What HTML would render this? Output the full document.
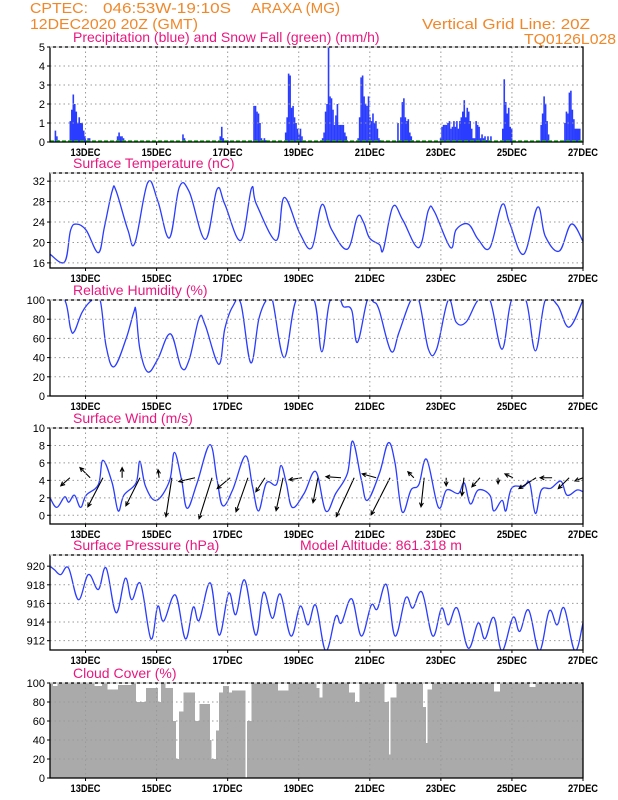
<!DOCTYPE html>
<html><head><meta charset="utf-8"><style>
html,body{margin:0;padding:0;background:#fff;}
svg{display:block;font-family:"Liberation Sans",sans-serif;}
.t{fill:#f0882a;font-size:15px;}
.m{fill:#e8177f;font-size:14px;}
.tk{font-size:11px;fill:#000;}
</style></head><body>
<svg id="c" width="618" height="800" viewBox="0 0 618 800">
<text class="t" x="30" y="13" textLength="58" lengthAdjust="spacingAndGlyphs">CPTEC:</text>
<text class="t" x="103" y="13" textLength="128" lengthAdjust="spacingAndGlyphs">046:53W-19:10S</text>
<text class="t" x="251" y="13" textLength="89" lengthAdjust="spacingAndGlyphs">ARAXA (MG)</text>
<text class="t" x="30" y="29" textLength="168" lengthAdjust="spacingAndGlyphs">12DEC2020 20Z (GMT)</text>
<text class="t" x="422" y="29" textLength="168" lengthAdjust="spacingAndGlyphs">Vertical Grid Line: 20Z</text>
<text class="t" x="524" y="44" textLength="92" lengthAdjust="spacingAndGlyphs">TQ0126L028</text>
<g id="g"></g>
</svg>
<script>
// ---- data (days since 12DEC 20Z) ----
const xLabels = ["13DEC","15DEC","17DEC","19DEC","21DEC","23DEC","25DEC","27DEC"];
const precipClusters = [
 [0.13,[0.6,0.3,0.1]],
 [0.55,[1.1,1.7,2.5,2.0,1.6,1.0,1.3,1.0,1.0,0.6,0.3,0,0.2,0.2]],
 [1.88,[0.3,0.5,0.3,0.3,0.2]],
 [3.72,[0.4,0.2]],
 [4.77,[0.3,0.8,0.2,0,0,0.1]],
 [5.72,[1.9,1.9,1.6,1.5,1.0,0.2,0.1,0.2,0.1]],
 [6.61,[0.5,1.3,3.6,3.5,1.8,1.9,1.3,1.0,0.7,0.4,0.7,0.3]],
 [7.65,[0.2,0.5,1.6,2.0,5.0,2.4,2.3,1.7,0.9,1.4,2.0,0.9,0.9,0.9,0.9,0.5,0.3]],
 [8.65,[0.2,1.3,3.4,3.5,2.4,2.0,1.9,2.4,1.3,1.1,1.5,1.0,1.1,0.7,0.2,0.1]],
 [9.77,[1.0,0,1.3,2.1,2.3,1.3,1.1,1.2,0.5,0.3,0.1]],
 [10.97,[0.2,0.8,0.9,0.9,0.9,1.0,1.1,0.7,0.8,1.1,0.8,1.1,0.7,1.1,1.3,1.6,2.2,1.3,1.8,1.6,1.1,0.7,0.2,0.2,1.1,0.9,0.8,0.2,0.4,0.2,0.3,0.1,0.3,0,0.3]],
 [12.72,[0.7,3.3,2.1,1.5,1.8,0.8,0.7]],
 [13.8,[0.9,1.5,2.4,2.0,1.1,0.4]],
 [14.47,[1.0,1.6,1.5,2.6,2.7,1.7,1.2,0.7,0.7,0.7,0.7]]
];
const tempDays = [0,0.41,0.58,0.75,1.02,1.36,1.53,1.75,1.86,2.19,2.39,2.75,3.03,3.36,3.64,3.92,4.37,4.7,4.92,5.37,5.67,5.81,6.37,6.59,7.03,7.37,7.65,7.92,8.37,8.65,8.82,8.99,9.27,9.38,9.65,9.93,10.38,10.65,10.82,11.27,11.43,11.77,12.05,12.38,12.72,12.94,13.33,13.72,13.94,14.33,14.67,15];
const tempVals = [17.7,16.2,22.4,23.6,22.4,18,23,30.1,30.1,22.5,19.9,31.7,28.2,20.9,30.8,29.9,20.6,30.4,27.5,20.4,30.6,27.5,20.4,28.8,21.8,19,27.4,22.6,18.7,25,24,20.9,19.6,18.6,27,24.4,19,26.3,26,19,22.5,23.6,20.6,19,27.4,23.7,17.7,26.9,21.2,18.3,23.6,20.2];
const rhDays = [0,0.41,0.58,0.69,0.91,1.19,1.41,1.58,1.8,2.14,2.36,2.42,2.53,2.75,3.03,3.39,3.7,3.92,4.2,4.37,4.75,4.92,5.14,5.37,5.65,5.88,6.09,6.26,6.59,6.93,7.43,7.65,7.87,8.15,8.26,8.49,8.65,8.93,9.1,9.26,9.6,9.82,10.16,10.38,10.65,10.88,11.21,11.43,11.71,12.05,12.38,12.72,12.99,13.39,13.66,13.94,14.28,14.61,15];
const rhVals = [100,100,70,67.5,87.6,100,100,52,30.4,59.4,87.6,88,48.8,25.1,38.2,64.7,29.3,38.2,81.3,73.5,33,70,93,96.5,34.6,80.6,100,100,40,100,100,46,98,100,93,89.4,55.8,100,98,90,46.6,66,100,100,48.8,48.8,100,77,77,100,100,48.8,100,100,47,100,94.7,71.7,100];
const windDays = [0,0.19,0.41,0.53,0.69,0.86,1.02,1.36,1.49,1.75,1.92,2.08,2.42,2.53,2.69,2.99,3.36,3.5,3.7,3.86,4.14,4.5,4.7,4.86,5.14,5.5,5.7,5.87,6.09,6.37,6.5,6.65,6.82,7.15,7.48,7.76,8.04,8.37,8.52,8.76,8.93,9.27,9.52,9.71,9.91,10.16,10.38,10.6,10.93,11.16,11.49,11.66,11.83,12.05,12.38,12.49,12.72,12.83,12.99,13.33,13.5,13.66,13.83,14.1,14.38,14.55,14.83,15];
const windVals = [2,0.9,2.1,1.5,2.3,0.9,2.3,3.5,6.3,3.7,0.5,2.3,3.7,6.2,3.3,1.7,3.9,7.2,4.1,0.8,3.7,8.1,4.1,1.1,2.9,6.8,3.3,0.5,3.7,3.5,5.7,3.7,0.9,2.5,5,0.5,2.5,4.8,8.5,4.1,1.7,4.8,8.3,6,0.4,2.9,3.5,6.4,0.9,2.9,2.5,3.7,1.3,2.9,2.3,0.5,1.7,0.5,3.1,3.3,3.7,0.2,2.9,3.1,3.9,2.3,2.9,2.7];
const arrowDays = [0.56,1.13,1.49,2.03,2.53,3.07,3.43,4.08,4.56,5.07,5.57,6.05,6.56,7.09,7.54,8.19,8.56,9.18,9.57,10.24,10.53,11.15,11.65,12.1,12.61,13.03,13.68,14.13,14.61,15.0];
const arrowU = [-2.6,-2.9,-4.3,0,-4,-0.3,-1.7,-4.6,-3.7,-3.7,-3.4,-2.6,-2,-3.7,-1.4,-4.3,-5.1,-4,-5.4,-1.7,-0.9,0,-0.6,-2.3,0,-2.3,-4.9,-3.4,-3.1,-2.3];
const arrowV = [-2.3,2.9,-8.3,2.9,-8,2.3,-11.1,-1.1,-11.7,-3.1,-9.7,-4,-9.4,-0.6,-7.1,0.3,-11.1,1.1,-10.6,1.7,-8.3,-2.3,-5.1,-2.6,-1.7,1.1,-3.1,0,-3.1,-0.9];
const presDays = [0,0.13,0.3,0.52,0.8,1.08,1.36,1.58,1.86,2.12,2.3,2.55,2.84,3.03,3.2,3.53,3.81,4.03,4.2,4.51,4.76,5.03,5.23,5.48,5.79,6.01,6.26,6.48,6.78,7.04,7.26,7.48,7.76,8.04,8.2,8.49,8.76,9.04,9.21,9.47,9.71,10.01,10.21,10.47,10.77,11.02,11.21,11.46,11.77,12.05,12.24,12.49,12.72,13.03,13.22,13.47,13.77,14.05,14.27,14.47,14.77,15];
const presVals = [920,919.6,919.1,919.8,916.4,919.1,917.5,919.8,915,918.7,916.4,918.1,912.2,915.7,914.1,916.9,912.2,915.6,914.2,918.2,912.6,917.1,914.8,918.5,912.6,917.2,914.4,917,912.5,915.7,913.7,915.8,910.9,914.6,913.9,916.5,912.5,915.8,915.4,918,912.5,916.6,915.5,917.2,912.5,915.5,913.7,915.5,911.2,913.9,912.2,914.5,910.9,914.5,913,915.3,910.9,915.2,913.7,915.5,910.9,913.9];
const cloudDips = [[0.1,0.2,97],[1.25,1.45,97],[1.63,1.91,93],[1.91,2.3,98],[2.42,2.7,80],[2.7,3.03,95],[3.03,3.14,80],[3.25,3.47,95],[3.47,3.53,60],[3.53,3.64,20],[3.64,3.75,70],[3.75,4.09,90],[4.09,4.2,60],[4.2,4.48,78],[4.48,4.54,40],[4.54,4.65,20],[4.65,4.76,50],[4.76,4.87,90],[4.87,5.03,97],[5.03,5.14,90],[5.14,5.48,92],[5.48,5.53,0],[5.53,5.65,60],[6.43,6.71,92],[7.49,7.6,95],[7.6,7.66,85],[8.43,8.57,90],[8.57,8.71,80],[9.43,9.54,80],[9.54,9.6,25],[9.6,9.77,85],[10.49,10.6,75],[10.6,10.63,37],[10.63,10.74,93],[10.99,11.1,99],[12.5,12.67,91],[13.5,13.66,96]];

// ---- drawing ----
const NS="http://www.w3.org/2000/svg";
const G=document.getElementById('g');
const X0=50,X1=583,NDAYS=15;
function x(d){return X0+(X1-X0)*d/NDAYS;}
function mk(tag,at,parent){const e=document.createElementNS(NS,tag);for(const k in at)e.setAttribute(k,at[k]);(parent||G).appendChild(e);return e;}
function panel(name,title,top,bot,vmin,vmax,ticks,extra){
  const g=mk('g',{});
  
  
  const y=v=>bot-(v-vmin)/(vmax-vmin)*(bot-top);
  const t=mk('text',{x:73,y:top-5,class:'m'},g);t.textContent=title;
  
  
  if(extra){const e=mk('text',{x:300,y:top-5,class:'m'},g);e.textContent=extra;
    
    }
  const cp=mk('clipPath',{id:'cp'+name},g);
  mk('rect',{x:X0,y:top,width:X1-X0,height:bot-top},cp);
  const inner=mk('g',{'clip-path':'url(#cp'+name+')'},g);
  const axes=mk('g',{},g);
  for(let i=0;i<xLabels.length;i++){const xx=x(1+2*i);
    if(i<xLabels.length-1) mk('line',{x1:xx,x2:xx,y1:top,y2:bot,stroke:'#999','stroke-dasharray':'1.5,3'},axes);
    mk('line',{x1:xx,x2:xx,y1:bot,y2:bot+3,stroke:'#000'},axes);
    const l=mk('text',{x:xx,y:bot+14,'text-anchor':'middle',class:'tk','font-weight':'bold','textLength':30,'lengthAdjust':'spacingAndGlyphs'},axes);l.textContent=xLabels[i];
    
    }
  ticks.forEach(v=>{const yy=y(v);
    if(v>vmin&&v<vmax) mk('line',{x1:X0,x2:X1,y1:yy,y2:yy,stroke:'#999','stroke-dasharray':'1.5,3'},axes);
    mk('line',{x1:X0-3,x2:X0,y1:yy,y2:yy,stroke:'#000'},axes);
    const l=mk('text',{x:X0-5,y:yy+4,'text-anchor':'end',class:'tk'},axes);l.textContent=v;
    
    });
  return {y,inner,axes,top,bot};
}
function frame(p){
  mk('rect',{x:X0,y:p.top,width:X1-X0,height:p.bot-p.top,fill:'none',stroke:'#000','stroke-width':1.3},p.axes);
  mk('line',{x1:X0,x2:X1,y1:p.top,y2:p.top,stroke:'#fff','stroke-dasharray':'3,3'},p.axes);
}
function line(p,days,vals,name){
  const P=days.map((dd,i)=>[x(dd),p.y(vals[i])]);
  let d='M'+P[0][0].toFixed(1)+','+P[0][1].toFixed(1);
  const k=0.18;
  for(let i=0;i<P.length-1;i++){
    const p0=P[Math.max(0,i-1)],p1=P[i],p2=P[i+1],p3=P[Math.min(P.length-1,i+2)];
    const c1=[p1[0]+(p2[0]-p0[0])*k,p1[1]+(p2[1]-p0[1])*k];
    const c2=[p2[0]-(p3[0]-p1[0])*k,p2[1]-(p3[1]-p1[1])*k];
    d+='C'+c1.map(v=>v.toFixed(1)).join(',')+' '+c2.map(v=>v.toFixed(1)).join(',')+' '+p2.map(v=>v.toFixed(1)).join(',');
  }
  const e=mk('path',{d,fill:'none',stroke:'#2a3cff','stroke-width':1.3,'stroke-linejoin':'round'},p.inner);
  
  
}
// precip
let p=panel('precip','Precipitation (blue) and Snow Fall (green) (mm/h)',47,142,0,5,[0,1,2,3,4,5]);
precipClusters.forEach(c=>{c[1].forEach((v,i)=>{if(v<=0)return;const d=c[0]+i/24;
  const r=mk('rect',{x:x(d).toFixed(2),y:p.y(v).toFixed(2),width:1.6,height:(p.y(0)-p.y(v)).toFixed(2),fill:'#2a3cff'},p.inner);
  
  });});
const sn=mk('line',{x1:X0,x2:X1,y1:141,y2:141,stroke:'#1fb81f','stroke-width':1.5,'stroke-dasharray':'4,2'},p.inner);


frame(p);
// temp
p=panel('temp','Surface Temperature (nC)',173,268,15,33.6,[16,20,24,28,32]);
line(p,tempDays,tempVals,'temperature-line');frame(p);
// rh
p=panel('rh','Relative Humidity (%)',300,396,0,100,[0,20,40,60,80,100]);
line(p,rhDays,rhVals,'humidity-line');frame(p);
// wind
p=panel('wind','Surface Wind (m/s)',428,524,-1,10,[0,2,4,6,8,10]);
line(p,windDays,windVals,'wind-speed-line');
arrowDays.forEach((d,i)=>{const x1=x(d),y1=p.y(4.3),s=3.5;const x2=x1+arrowU[i]*s,y2=y1-arrowV[i]*s;
  const a=Math.atan2(y2-y1,x2-x1),h=4.5;
  const dd=`M${x1},${y1}L${x2},${y2}M${x2-h*Math.cos(a-0.45)},${y2-h*Math.sin(a-0.45)}L${x2},${y2}L${x2-h*Math.cos(a+0.45)},${y2-h*Math.sin(a+0.45)}`;
  const e=mk('path',{d:dd,stroke:'#000',fill:'none','stroke-width':1.1},p.inner);
  
  });
frame(p);
// pressure
p=panel('pres','Surface Pressure (hPa)',555,650,911,921.2,[912,914,916,918,920],'Model Altitude: 861.318 m');
line(p,presDays,presVals,'pressure-line');frame(p);
// cloud
p=panel('cloud','Cloud Cover (%)',683,778,0,100,[0,20,40,60,80,100]);
let cd='M'+X0+','+p.y(0);
for(let h=0;h<NDAYS*24;h++){const d=h/24;let v=100;
  cloudDips.forEach(c=>{if(d+1/48>=c[0]&&d+1/48<c[1])v=Math.min(v,c[2]);});
  cd+='L'+x(d).toFixed(2)+','+p.y(v).toFixed(2)+'L'+x(d+1/24).toFixed(2)+','+p.y(v).toFixed(2);}
cd+='L'+X1+','+p.y(0)+'Z';
const ca=mk('path',{d:cd,fill:'#aaaaaa','shape-rendering':'crispEdges'},p.inner);


frame(p);
</script>
</body></html>
